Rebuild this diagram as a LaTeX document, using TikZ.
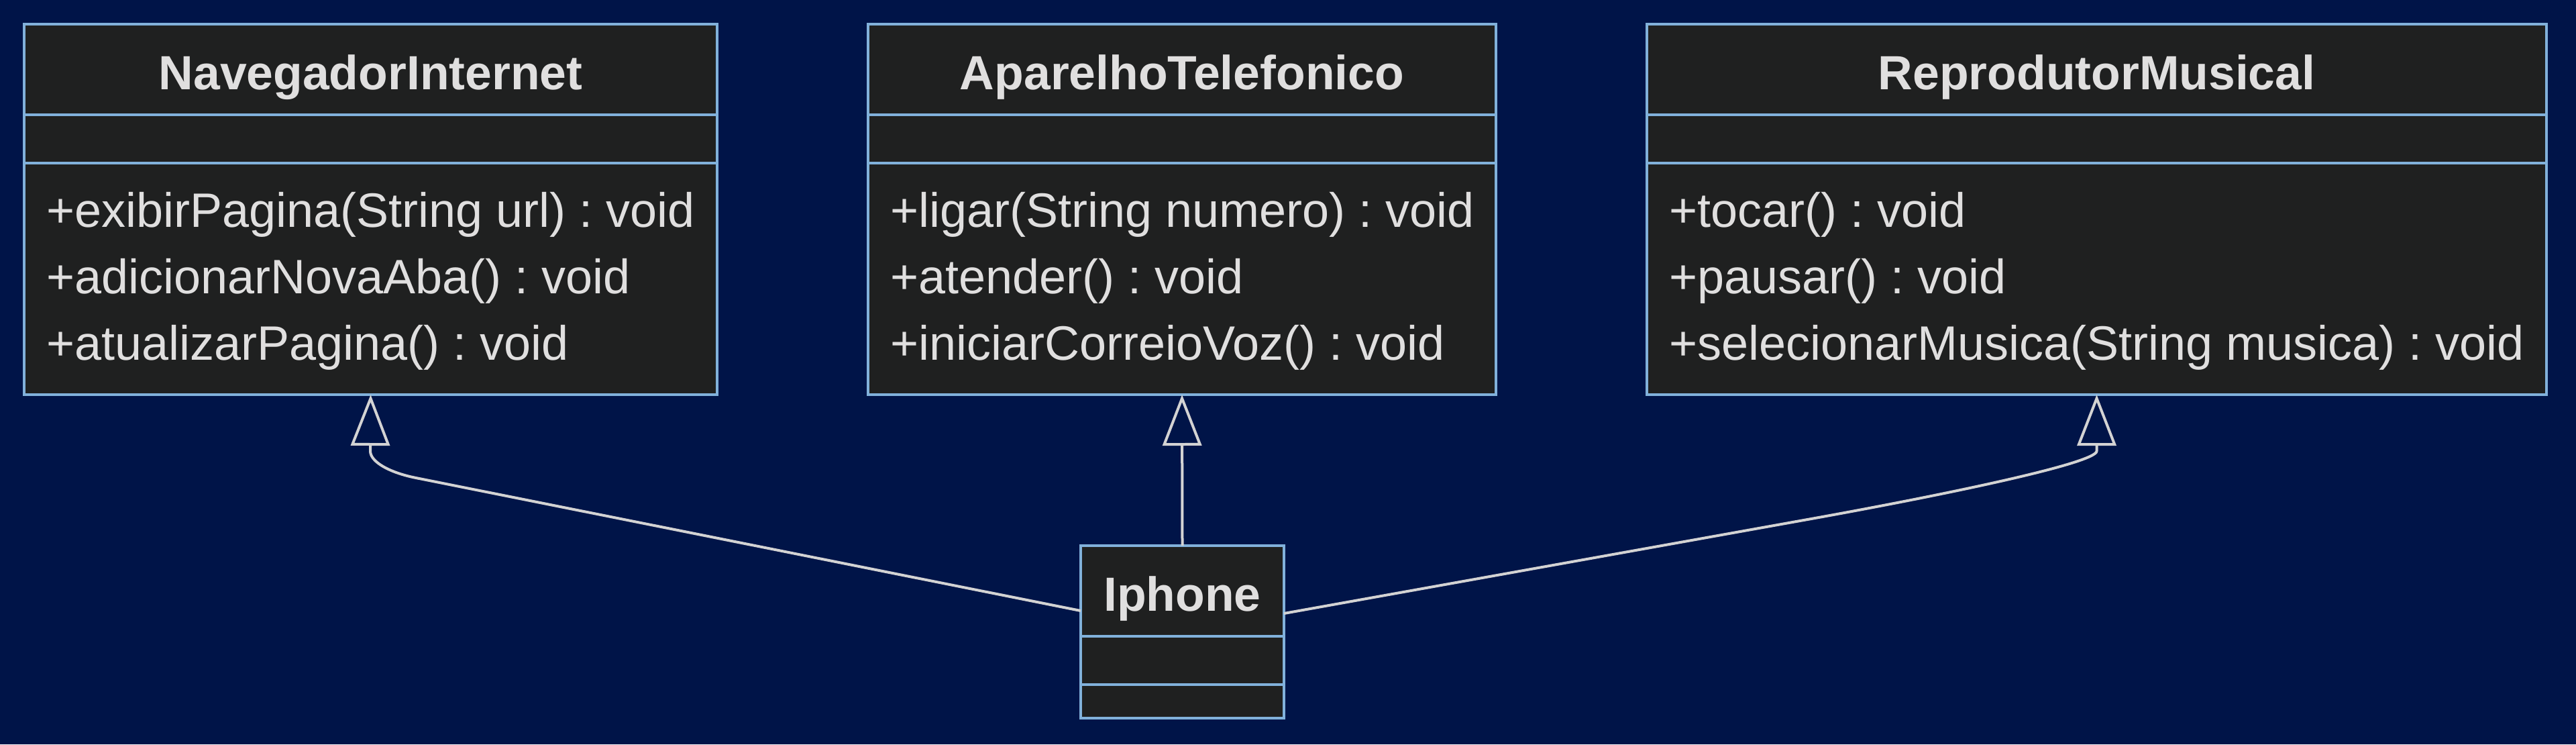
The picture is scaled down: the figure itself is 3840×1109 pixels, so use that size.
\documentclass[tikz,border=0pt]{standalone}
\usepackage{fontspec}
\setmainfont{Liberation Sans}
\usetikzlibrary{arrows.meta}
\definecolor{bgcol}{HTML}{001448}
\definecolor{boxfill}{HTML}{1F2020}
\definecolor{boxline}{HTML}{81B1DB}
\definecolor{txtcol}{HTML}{E0DFDF}
\definecolor{edgecol}{HTML}{D3D3D3}
\frenchspacing
\tikzset{
  umlbox/.style={draw=boxline, fill=boxfill, line width=4pt, inner sep=0pt, outer sep=0pt, anchor=north west},
  divider/.style={draw=boxline, line width=4pt},
  classtitle/.style={text=txtcol, font=\fontsize{71.5}{86}\selectfont\bfseries, anchor=base, inner sep=0pt},
  member/.style={text=txtcol, font=\fontsize{72}{86}\selectfont\frenchspacing, anchor=base west, inner sep=0pt},
  inherit/.style={draw=edgecol, line width=4pt, -{Triangle[open, length=76pt, width=58pt]}},
}
\begin{document}
\begin{tikzpicture}[x=1pt, y=-1pt]
\useasboundingbox (0,0) rectangle (3840,1109);
\fill[bgcol] (0,0) rectangle (3840,1109);

% NavegadorInternet
\node[umlbox, minimum width=1033pt, minimum height=552pt] (n1) at (36,36) {};
\draw[divider] (36,171) -- (1069,171);
\draw[divider] (36,243) -- (1069,243);
\node[classtitle] (n1t) at (552.5,133) {NavegadorInternet};
\node[member] (n1a) at (69,338) {+exibirPagina(String url) : void};
\node[member] (n1b) at (69,437) {+adicionarNovaAba() : void};
\node[member] (n1c) at (69,536) {+atualizarPagina() : void};

% AparelhoTelefonico
\node[umlbox, minimum width=936pt, minimum height=552pt] (n2) at (1294,36) {};
\draw[divider] (1294,171) -- (2230,171);
\draw[divider] (1294,243) -- (2230,243);
\node[classtitle] (n2t) at (1762,133) {AparelhoTelefonico};
\node[member] (n2a) at (1327,338) {+ligar(String numero) : void};
\node[member] (n2b) at (1327,437) {+atender() : void};
\node[member] (n2c) at (1327,536) {+iniciarCorreioVoz() : void};

% ReprodutorMusical
\node[umlbox, minimum width=1341pt, minimum height=552pt] (n3) at (2455,36) {};
\draw[divider] (2455,171) -- (3796,171);
\draw[divider] (2455,243) -- (3796,243);
\node[classtitle] (n3t) at (3125.5,133) {ReprodutorMusical};
\node[member] (n3a) at (2488,338) {+tocar() : void};
\node[member] (n3b) at (2488,437) {+pausar() : void};
\node[member] (n3c) at (2488,536) {+selecionarMusica(String musica) : void};

% Iphone
\node[umlbox, minimum width=303pt, minimum height=257pt] (ip) at (1611,813) {};
\draw[divider] (1611,948) -- (1914,948);
\draw[divider] (1611,1020) -- (1914,1020);
\node[classtitle] (ipt) at (1762.5,910) {Iphone};

% inheritance
\draw[inherit] ([yshift=31.5pt]ip.west) -- (620,712) .. controls (580,704) and (552,688) .. (552,672) -- (n1.south);
\draw[inherit] (ip.north) -- (n2.south);
\draw[inherit] ([yshift=27.5pt]ip.east) -- (2700,773) .. controls (2900,737) and (3125.5,690) .. (3125.5,672) -- (n3.south);
\end{tikzpicture}
\end{document}
